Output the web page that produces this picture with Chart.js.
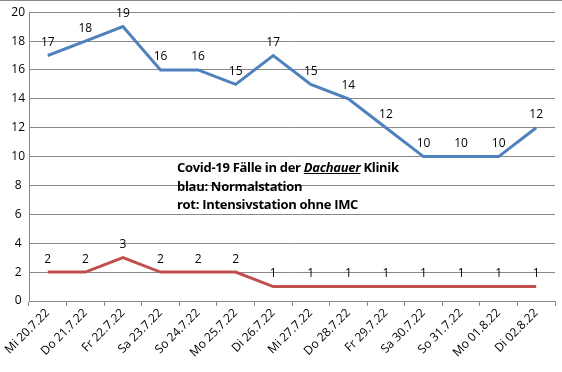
<!DOCTYPE html>
<html>
<head>
<meta charset="utf-8">
<script src="https://cdn.jsdelivr.net/npm/chart.js@4"></script>
<style>
  html, body { margin: 0; padding: 0; background: #fff; }
  #wrap { position: relative; width: 562px; height: 372px; border-top: 1px solid #888; box-sizing: border-box; }
  #note {
    position: absolute; left: 177px; top: 157px;
    font-family: "Open Sans", sans-serif; font-weight: bold; font-size: 13px;
    line-height: 18.5px; color: #000; letter-spacing: -0.3px;
  }
  #note i { text-decoration: underline; }
</style>
</head>
<body>
<div id="wrap">
  <canvas id="chartCanvas" width="562" height="371"></canvas>
  <div id="note">
    Covid-19 Fälle in der <i>Dachauer</i> Klinik<br>
    blau: Normalstation<br>
    rot: Intensivstation ohne IMC
  </div>
</div>
<script>
// Daten
const tage = ["Mi 20.7.22", "Do 21.7.22", "Fr 22.7.22", "Sa 23.7.22", "So 24.7.22", "Mo 25.7.22", "Di 26.7.22",
              "Mi 27.7.22", "Do 28.7.22", "Fr 29.7.22", "Sa 30.7.22", "So 31.7.22", "Mo 01.8.22", "Di 02.8.22"];
const normalstation = [17, 18, 19, 16, 16, 15, 17, 15, 14, 12, 10, 10, 10, 12];
const intensivstation = [2, 2, 3, 2, 2, 2, 1, 1, 1, 1, 1, 1, 1, 1];
const yTicks = [0, 2, 4, 6, 8, 10, 12, 14, 16, 18, 20];

const fontFam = "'Open Sans', sans-serif";

// Werte über den Punkten
const labelPlugin = {
    id: "werte",
    afterDatasetsDraw(chart) {
        const ctx = chart.ctx;
        ctx.save();
        ctx.font = "12px " + fontFam;
        ctx.fillStyle = "#000";
        ctx.textAlign = "center";
        ctx.textBaseline = "bottom";
        chart.data.datasets.forEach((ds, i) => {
            chart.getDatasetMeta(i).data.forEach((pt, j) => {
                ctx.fillText(ds.data[j], pt.x, pt.y - 7);
            });
        });
        ctx.restore();
    }
};

const ctx = document.getElementById("chartCanvas").getContext("2d");
new Chart(ctx, {
    type: "line",
    data: {
        labels: tage,
        datasets: [{
            data: normalstation,
            borderColor: "#4F81BD",
            borderWidth: 3,
            pointRadius: 0,
            tension: 0
        }, {
            data: intensivstation,
            borderColor: "#C0504D",
            borderWidth: 3,
            pointRadius: 0,
            tension: 0
        }]
    },
    options: {
        responsive: false,
        animation: false,
        layout: { padding: { top: 7, right: 7, left: 0, bottom: 0 } },
        plugins: { legend: { display: false }, tooltip: { enabled: false } },
        scales: {
            x: {
                offset: true,
                grid: { offset: true, drawOnChartArea: false, drawTicks: true, tickLength: 5, color: "#888" },
                border: { color: "#888" },
                ticks: {
                    color: "#000", maxRotation: 45, minRotation: 45, autoSkip: false,
                    font: { family: fontFam, size: 12 }, padding: 0
                },
                afterFit: s => { s.height = 71; }
            },
            y: {
                min: 0, max: 20,
                afterBuildTicks: s => { s.ticks = yTicks.map(v => ({ value: v })); },
                grid: { color: "#888", drawTicks: false },
                border: { color: "#888" },
                ticks: { color: "#000", crossAlign: "center", padding: 4, font: { family: fontFam, size: 12 } },
                afterFit: s => { s.width = 29; }
            }
        }
    },
    plugins: [labelPlugin]
});
</script>
</body>
</html>
